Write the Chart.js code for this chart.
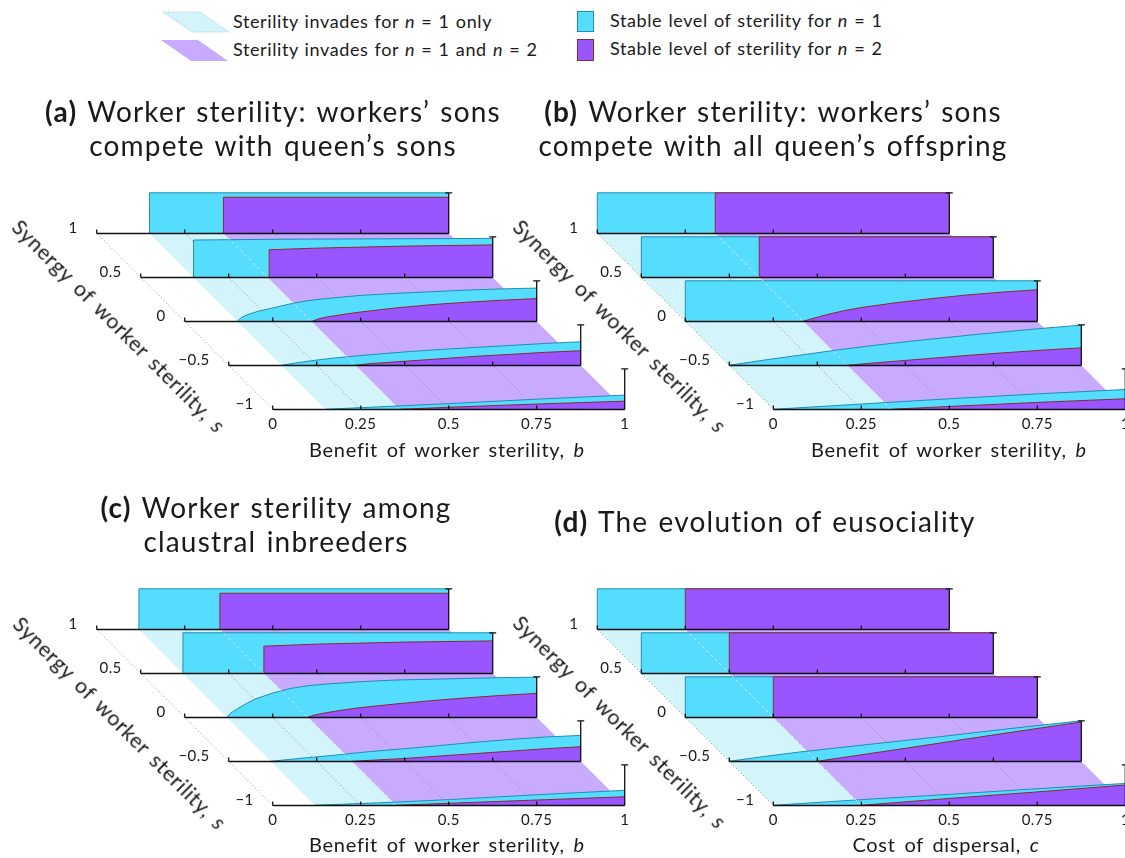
<!DOCTYPE html>
<html><head><meta charset="utf-8">
<script src="https://cdn.jsdelivr.net/npm/chart.js@4.4.1/dist/chart.umd.min.js"></script>
<style>
html,body{margin:0;padding:0;background:#fff;}
body{width:1125px;height:858px;position:relative;overflow:hidden;font-family:Lato,"Liberation Sans",sans-serif;color:#1a1a1a;}
canvas.pc{position:absolute;left:0;top:0;}
.t{position:absolute;white-space:nowrap;}
.title{font-size:28px;line-height:34px;text-align:center;width:640px;letter-spacing:1.2px;word-spacing:2px;}
.title b{font-weight:700;}
.ax{font-size:20px;line-height:24px;transform:translateX(-50%);letter-spacing:0.7px;word-spacing:3px;}
.rot{font-size:21px;line-height:24px;transform:translate(-50%,-50%) rotate(45deg);letter-spacing:0.7px;word-spacing:3px;}
.lg{font-size:18px;line-height:20px;letter-spacing:0.6px;word-spacing:1px;}
svg.sw{position:absolute;left:0;top:0;}
</style></head>
<body>
<svg class="sw" width="1125" height="70">
  <polygon points="163,12 200,12 229,32 192,32" fill="#d4f4fc" stroke="#9cc8d4" stroke-width="1" stroke-dasharray="1,1.5"/>
  <polygon points="161,40 198,40 228,61 191,61" fill="#c8aaff" stroke="none"/>
  <rect x="577.5" y="11.5" width="16" height="20" fill="#55ddff" stroke="#1f8fb0" stroke-width="1"/>
  <rect x="577.5" y="39.5" width="16" height="21" fill="#9955ff" stroke="#8b2a2a" stroke-width="1"/>
</svg>
<div class="t lg" style="left:233px;top:11px">Sterility invades for <i>n</i> = 1 only</div>
<div class="t lg" style="left:233px;top:39px">Sterility invades for <i>n</i> = 1 and <i>n</i> = 2</div>
<div class="t lg" style="left:610px;top:10px">Stable level of sterility for <i>n</i> = 1</div>
<div class="t lg" style="left:610px;top:38px">Stable level of sterility for <i>n</i> = 2</div>

<canvas class="pc" id="cA" width="1125" height="858"></canvas>
<canvas class="pc" id="cB" width="1125" height="858"></canvas>
<canvas class="pc" id="cC" width="1125" height="858"></canvas>
<canvas class="pc" id="cD" width="1125" height="858"></canvas>

<div class="t title" style="left:-47px;top:94px"><b>(a)</b> Worker sterility: workers’ sons<br>compete with queen’s sons</div>
<div class="t title" style="left:453px;top:94px"><b>(b)</b> Worker sterility: workers’ sons<br>compete with all queen’s offspring</div>
<div class="t title" style="left:-44px;top:490px"><b>(c)</b> Worker sterility among<br>claustral inbreeders</div>
<div class="t title" style="left:445px;top:504px"><b>(d)</b> The evolution of eusociality</div>

<div class="t ax" style="left:447px;top:437px">Benefit of worker sterility, <i>b</i></div>
<div class="t ax" style="left:949px;top:437px">Benefit of worker sterility, <i>b</i></div>
<div class="t ax" style="left:447px;top:832px">Benefit of worker sterility, <i>b</i></div>
<div class="t ax" style="left:946px;top:832px">Cost of dispersal, <i>c</i></div>

<div class="t rot" style="left:119px;top:326px">Synergy of worker sterility, <i>s</i></div>
<div class="t rot" style="left:620px;top:326px">Synergy of worker sterility, <i>s</i></div>
<div class="t rot" style="left:120px;top:723px">Synergy of worker sterility, <i>s</i></div>
<div class="t rot" style="left:620px;top:722px">Synergy of worker sterility, <i>s</i></div>

<script>
// ---------- data ----------
const sLabels = ['1', '0.5', '0', '\u22120.5', '\u22121'];      // rows, back to front
const bTicks = [0, 0.25, 0.5, 0.75, 1];
const bTickLabels = ['0', '0.25', '0.5', '0.75', '1'];

// floor thresholds: sterility invades for n=1 (from) and for n=1 and n=2 (from)
const floorN1 = [0.15, 0, 0.12, 0];      // panels a, b, c, d
const floorN2 = [0.36, 0.335, 0.35, 0.25];

// stable level of sterility, [b, level] per row (s = 1, 0.5, 0, -0.5, -1)
const panelA_n1 = [
  [[0.15,0],[0.15,1],[1,1]],
  [[0.15,0],[0.15,0.92],[0.4,0.94],[0.7,0.95],[1,0.96]],
  [[0.15,0],[0.16,0.09],[0.18,0.17],[0.21,0.25],[0.25,0.33],[0.3,0.43],[0.35,0.51],[0.4,0.56],[0.5,0.64],[0.6,0.69],[0.7,0.73],[0.8,0.77],[0.9,0.8],[1,0.82]],
  [[0.15,0],[0.2,0.07],[0.25,0.13],[0.3,0.18],[0.4,0.26],[0.5,0.33],[0.6,0.39],[0.7,0.44],[0.8,0.49],[0.9,0.54],[1,0.58]],
  [[0.15,0],[0.3,0.06],[0.5,0.14],[0.75,0.25],[1,0.35]]
];
const panelA_n2 = [
  [[0.36,0],[0.36,0.89],[1,0.89]],
  [[0.365,0],[0.365,0.68],[0.5,0.72],[0.75,0.77],[1,0.8]],
  [[0.3625,0],[0.38,0.06],[0.4,0.1],[0.45,0.17],[0.5,0.23],[0.6,0.33],[0.7,0.41],[0.8,0.47],[0.9,0.52],[1,0.56]],
  [[0.36,0],[0.4,0.04],[0.5,0.1],[0.6,0.16],[0.7,0.22],[0.8,0.27],[0.9,0.32],[1,0.36]],
  [[0.36,0],[0.5,0.05],[0.75,0.13],[1,0.2]]
];
const panelB_n1 = [
  [[0,0],[0,1],[1,1]],
  [[0,0],[0,1],[1,1]],
  [[0,0],[0,1],[1,1]],
  [[0,0],[0.1,0.13],[0.2,0.25],[0.3,0.37],[0.4,0.48],[0.5,0.58],[0.6,0.67],[0.7,0.76],[0.8,0.84],[0.9,0.92],[1,0.99]],
  [[0,0],[0.25,0.13],[0.5,0.26],[0.75,0.38],[1,0.49]]
];
const panelB_n2 = [
  [[0.335,0],[0.335,1],[1,1]],
  [[0.335,0],[0.335,1],[1,1]],
  [[0.335,0],[0.35,0.04],[0.4,0.16],[0.45,0.26],[0.5,0.34],[0.6,0.46],[0.7,0.56],[0.8,0.65],[0.9,0.72],[1,0.78]],
  [[0.335,0],[0.4,0.05],[0.5,0.12],[0.6,0.19],[0.7,0.26],[0.8,0.32],[0.9,0.38],[1,0.43]],
  [[0.335,0],[0.5,0.07],[0.75,0.17],[1,0.26]]
];
const panelC_n1 = [
  [[0.12,0],[0.12,1],[1,1]],
  [[0.12,0],[0.12,1],[1,1]],
  [[0.12,0],[0.13,0.1],[0.15,0.21],[0.175,0.34],[0.2,0.45],[0.25,0.6],[0.3,0.71],[0.35,0.78],[0.4,0.82],[0.5,0.88],[0.6,0.92],[0.7,0.94],[0.8,0.96],[0.9,0.98],[1,0.99]],
  [[0.12,0],[0.2,0.07],[0.3,0.15],[0.4,0.24],[0.5,0.31],[0.6,0.39],[0.7,0.47],[0.8,0.54],[0.9,0.6],[1,0.64]],
  [[0.12,0],[0.3,0.06],[0.5,0.14],[0.75,0.26],[1,0.37]]
];
const panelC_n2 = [
  [[0.35,0],[0.35,0.89],[1,0.89]],
  [[0.35,0],[0.35,0.67],[0.5,0.72],[0.75,0.77],[1,0.8]],
  [[0.35,0],[0.37,0.06],[0.4,0.11],[0.45,0.18],[0.5,0.24],[0.6,0.33],[0.7,0.41],[0.8,0.48],[0.9,0.54],[1,0.59]],
  [[0.35,0],[0.5,0.07],[0.6,0.13],[0.7,0.19],[0.8,0.25],[0.9,0.31],[1,0.36]],
  [[0.35,0],[0.5,0.05],[0.75,0.13],[1,0.21]]
];
const panelD_n1 = [
  [[0,0],[0,1],[1,1]],
  [[0,0],[0,1],[1,1]],
  [[0,0],[0,1],[1,1]],
  [[0,0],[0.1,0.12],[0.2,0.23],[0.4,0.42],[0.6,0.61],[0.8,0.81],[1,1]],
  [[0,0],[0.25,0.14],[0.5,0.27],[0.75,0.41],[1,0.54]]
];
const panelD_n2 = [
  [[0.25,0],[0.25,1],[1,1]],
  [[0.25,0],[0.25,1],[1,1]],
  [[0.25,0],[0.25,1],[1,1]],
  [[0.25,0],[0.5,0.32],[0.75,0.65],[1,0.97]],
  [[0.25,0],[0.5,0.17],[0.75,0.33],[1,0.5]]
];

// ---------- layout / style ----------
const W = 1125, H = 858;
const UX = 352, UY = 44;           // px per unit of b, px per row
const ROW_DX = 0.125;               // horizontal shift per row (in b units)
const LZ = 40.5 / 44;               // level 1 height in row units
const CYAN = '#55ddff', CYAN_EDGE = '#1f8fb0';
const PURP = '#9955ff', PURP_EDGE = '#8b2a2a';
const FLOOR1 = '#d4f4fc', FLOOR2 = '#c8aaff';
const FONT = 'Lato, "Liberation Sans", sans-serif';

const toX = (b, k) => b + k * ROW_DX;
const toY = (lv, k) => -k + lv * LZ;

const rowAxes = {
  id: 'rowAxes',
  afterDatasetsDraw(chart) {
    const ctx = chart.ctx, xs = chart.scales.x, ys = chart.scales.y;
    const P = (b, k, lv = 0) => [xs.getPixelForValue(toX(b, k)), ys.getPixelForValue(toY(lv, k))];
    ctx.save();
    ctx.strokeStyle = '#111'; ctx.lineWidth = 1.3; ctx.lineCap = 'butt';
    try { ctx.letterSpacing = '0.4px'; } catch (e) {}
    for (let k = 0; k < sLabels.length; k++) {
      const [x0, y0] = P(0, k), [x1] = P(1, k);
      const yb = Math.round(y0) + 0.5;
      ctx.beginPath(); ctx.moveTo(x0, yb); ctx.lineTo(x1, yb); ctx.stroke();
      bTicks.forEach(b => {
        const [x] = P(b, k);
        if (b < 1) { ctx.beginPath(); ctx.moveTo(x, yb); ctx.lineTo(x, yb - 4); ctx.stroke(); }
      });
      const [, yt] = P(1, k, 1);
      ctx.beginPath(); ctx.moveTo(x1, yb); ctx.lineTo(x1, yt);
      ctx.moveTo(x1 - 3.5, yt); ctx.lineTo(x1 + 3.5, yt); ctx.stroke();
      // s label
      ctx.fillStyle = '#1a1a1a'; ctx.font = '15px ' + FONT;
      ctx.textAlign = 'right'; ctx.textBaseline = 'middle';
      ctx.fillText(sLabels[k], x0 - 19, y0 - 5);
    }
    const kF = sLabels.length - 1;
    ctx.textAlign = 'center'; ctx.textBaseline = 'middle';
    bTicks.forEach((b, i) => {
      const [x, y] = P(b, kF);
      ctx.fillText(bTickLabels[i], x, y + 15);
    });
    ctx.restore();
  }
};

function makePanel(id, x0, y0, n1Rows, n2Rows, f1, f2) {
  const nR = n1Rows.length, kL = nR - 1;
  const ds = [];
  const pt = (b, k, lv = 0) => ({ x: toX(b, k), y: toY(lv, k) });
  ds.push({ data: [pt(f1, 0), pt(f2, 0), pt(f2, kL), pt(f1, kL), pt(f1, 0)], fill: 'shape',
    backgroundColor: FLOOR1, borderWidth: 0, pointRadius: 0, order: 300 });
  ds.push({ data: [pt(f2, 0), pt(1, 0), pt(1, kL), pt(f2, kL), pt(f2, 0)], fill: 'shape',
    backgroundColor: FLOOR2, borderWidth: 0, pointRadius: 0, order: 299 });
  bTicks.filter(b => b < 1).forEach(b => ds.push({ data: [pt(b, 0), pt(b, kL)], fill: false,
    borderColor: '#8c8c8c', borderWidth: 1, borderDash: [1, 2.5], pointRadius: 0, order: 250 }));
  for (let k = 0; k < nR; k++) {
    ds.push({ data: n1Rows[k].map(([b, l]) => pt(b, k, l)), fill: { value: -k },
      backgroundColor: CYAN, borderColor: CYAN_EDGE, borderWidth: 1, pointRadius: 0, order: 200 - 2 * k });
    ds.push({ data: n2Rows[k].map(([b, l]) => pt(b, k, l)), fill: { value: -k },
      backgroundColor: PURP, borderColor: PURP_EDGE, borderWidth: 1, pointRadius: 0, order: 199 - 2 * k });
  }
  ds.push({ data: [pt(f2, 0), pt(f2, kL)], fill: false, borderColor: 'rgba(236,226,255,0.85)',
    borderWidth: 1, borderDash: [3, 3], pointRadius: 0, order: 10 });
  new Chart(document.getElementById(id), {
    type: 'line',
    data: { datasets: ds },
    options: {
      responsive: false, animation: false, devicePixelRatio: 1, events: [],
      layout: { padding: 0 },
      plugins: { legend: { display: false }, tooltip: { enabled: false }, title: { display: false } },
      elements: { line: { tension: 0 } },
      scales: {
        x: { type: 'linear', display: false, min: -x0 / UX, max: (W - x0) / UX },
        y: { type: 'linear', display: false, min: -(H - y0) / UY, max: y0 / UY }
      }
    },
    plugins: [rowAxes]
  });
}

makePanel('cA', 96.7, 233.3, panelA_n1, panelA_n2, floorN1[0], floorN2[0]);
makePanel('cB', 597.3, 233.3, panelB_n1, panelB_n2, floorN1[1], floorN2[1]);
makePanel('cC', 96.7, 629.3, panelC_n1, panelC_n2, floorN1[2], floorN2[2]);
makePanel('cD', 597.3, 629.3, panelD_n1, panelD_n2, floorN1[3], floorN2[3]);
</script>
</body></html>
